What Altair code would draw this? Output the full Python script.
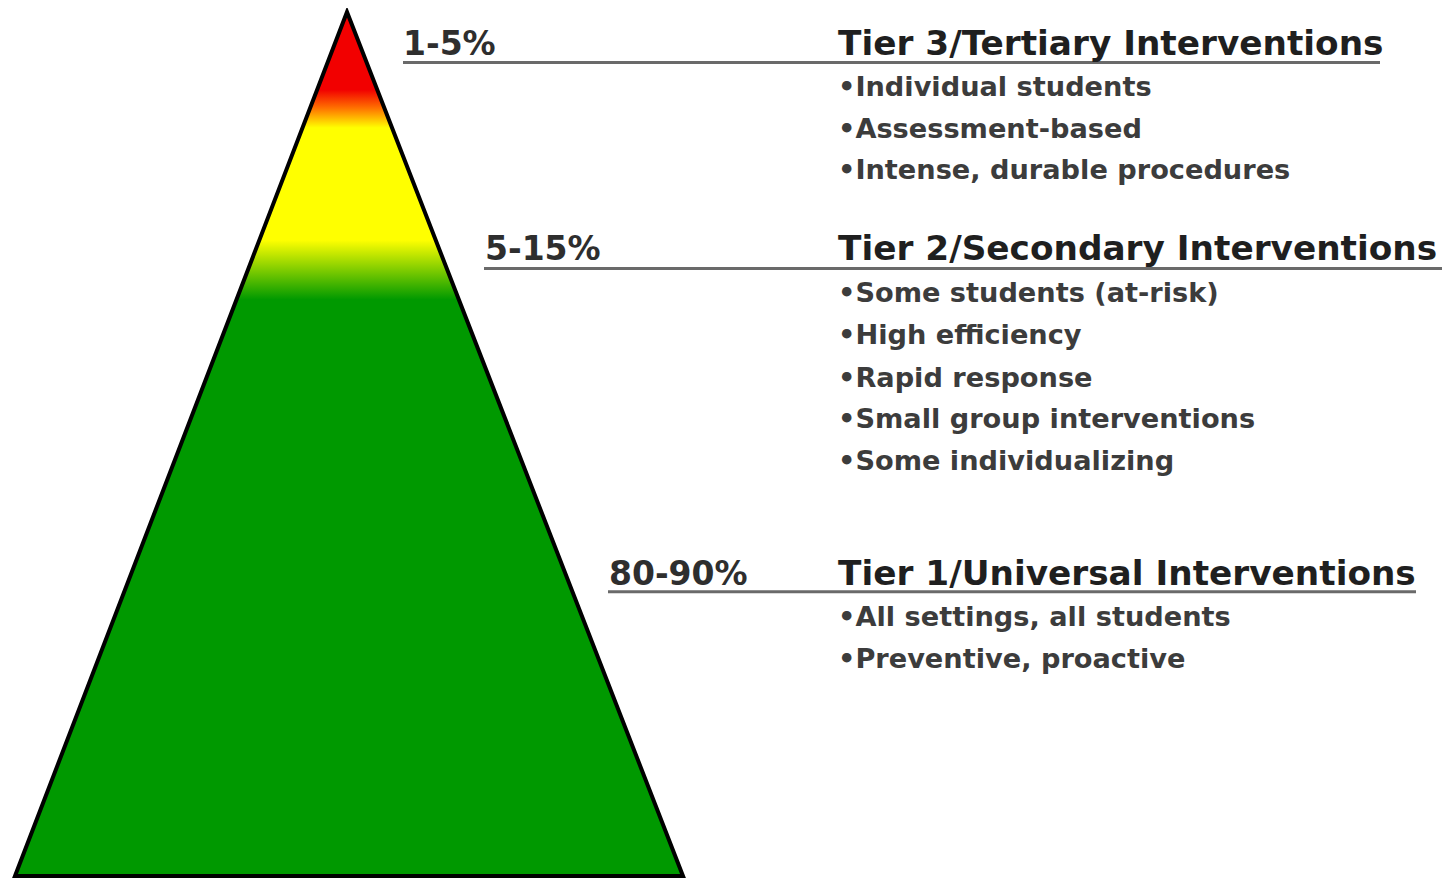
import altair as alt
import pandas as pd

# ---- data (reference pixel coordinates of the diagram) ----
tri_x = [15, 347, 683]
tri_top = [884, 12, 884]
tri_base = [884, 884, 884]

pct_labels = ["1-5%", "5-15%", "80-90%"]
pct_x = [403, 485, 609]
tier_baseline = [55, 262, 590]

tier_titles = ["Tier 3/Tertiary Interventions",
               "Tier 2/Secondary Interventions",
               "Tier 1/Universal Interventions"]
title_x = [838, 838, 838]

rule_x1 = [403, 484, 608]
rule_x2 = [1380, 1443, 1416]
rule_y = [63, 271, 597]

bullets = ["•Individual students", "•Assessment-based", "•Intense, durable procedures",
           "•Some students (at-risk)", "•High efficiency", "•Rapid response",
           "•Small group interventions", "•Some individualizing",
           "•All settings, all students", "•Preventive, proactive"]
bullet_y = [97, 139, 181, 305, 347, 390, 432, 474, 632, 674]
bullet_x = [838] * len(bullets)

# ---- scales mapping reference pixels onto the plot ----
W, H = 1434, 871
xs = alt.Scale(domain=[8, 1442], nice=False, zero=False)
ys = alt.Scale(domain=[8, 887], nice=False, zero=False, reverse=True)
X = lambda f: alt.X(f, type="quantitative", scale=xs, axis=None)
Y = lambda f: alt.Y(f, type="quantitative", scale=ys, axis=None)

tri_df = pd.DataFrame({"x": tri_x, "y": tri_top, "y2": tri_base})
pct_df = pd.DataFrame({"x": pct_x, "y": tier_baseline, "t": pct_labels})
title_df = pd.DataFrame({"x": title_x, "y": tier_baseline, "t": tier_titles})
rule_df = pd.DataFrame({"x": rule_x1, "x2": rule_x2, "y": rule_y})
bul_df = pd.DataFrame({"x": bullet_x, "y": bullet_y, "t": bullets})

grad = alt.LinearGradient(
    gradient="linear", x1=0, x2=0, y1=0, y2=1,
    stops=[
        alt.GradientStop(color="#f20000", offset=0.0),
        alt.GradientStop(color="#f20000", offset=0.090),
        alt.GradientStop(color="#ff7000", offset=0.111),
        alt.GradientStop(color="#ffff00", offset=0.134),
        alt.GradientStop(color="#ffff00", offset=0.264),
        alt.GradientStop(color="#009900", offset=0.333),
        alt.GradientStop(color="#009900", offset=1.0),
    ],
)

triangle = alt.Chart(tri_df).mark_area(
    color=grad, stroke="#000000", strokeWidth=4, strokeJoin="miter", interpolate="linear"
).encode(x=X("x"), y=Y("y"), y2="y2")

rules = alt.Chart(rule_df).mark_rule(color="#6a6a6a", strokeWidth=3).encode(
    x=X("x"), x2="x2", y=Y("y"))

pct = alt.Chart(pct_df).mark_text(
    align="left", baseline="alphabetic", font="DejaVu Sans", fontWeight="bold",
    fontSize=33, color="#2e2e2e"
).encode(x=X("x"), y=Y("y"), text="t")

titles = alt.Chart(title_df).mark_text(
    align="left", baseline="alphabetic", font="DejaVu Sans", fontWeight="bold",
    fontSize=34.3, color="#1f1f1f"
).encode(x=X("x"), y=Y("y"), text="t")

buls = alt.Chart(bul_df).mark_text(
    align="left", baseline="alphabetic", font="DejaVu Sans", fontWeight="bold",
    fontSize=27.2, color="#3c3c3c"
).encode(x=X("x"), y=Y("y"), text="t")

chart = alt.layer(triangle, rules, pct, titles, buls).properties(
    width=W, height=H, padding=0, autosize=alt.AutoSizeParams(type="none"),
    background="white"
).configure_view(stroke=None)

chart.save("out.html", embed_options={"renderer": "svg", "actions": False})
